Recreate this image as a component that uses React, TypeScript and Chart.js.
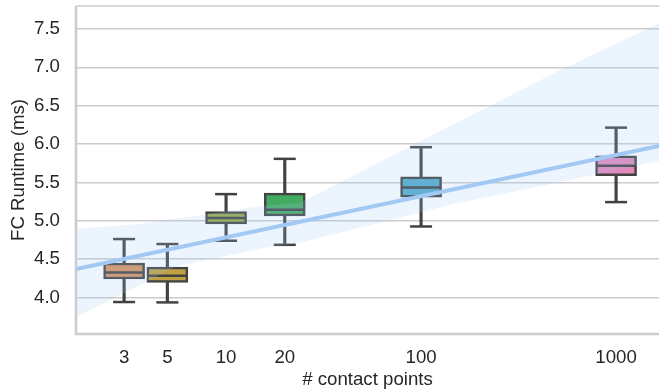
import React, { useEffect, useRef } from 'react';
import { Chart, registerables } from 'chart.js';

Chart.register(...registerables);

// ---- data ----
const contactPoints = [3, 5, 10, 20, 100, 1000];
const whiskerLow = [3.94, 3.935, 4.739, 4.686, 4.925, 5.243];
const q1 = [4.24, 4.195, 4.96, 5.064, 5.308, 5.589];
const medians = [4.326, 4.283, 5.034, 5.142, 5.433, 5.716];
const q3 = [4.448, 4.396, 5.12, 5.36, 5.572, 5.846];
const whiskerHigh = [4.761, 4.696, 5.347, 5.807, 5.959, 6.214];
const boxColors = ['#d9925c', '#c0a040', '#95ab47', '#43ab60', '#53abc8', '#e28abd'];

const fitX = [1.7, 1660];
const fitY = [4.37, 5.976];

const bandX = [1.7, 3.75, 5.54, 15.7, 24, 95, 141, 516, 1660];
const bandUpper = [4.896, 4.961, 5.026, 5.195, 5.234, 6.013, 6.234, 6.961, 7.575];
const bandLower = [3.74, 4.182, 4.403, 4.643, 4.714, 5.097, 5.208, 5.506, 5.783];

const xTicks = [3, 5, 10, 20, 100, 1000];
const yTicks = [4.0, 4.5, 5.0, 5.5, 6.0, 6.5, 7.0, 7.5];

const xTitle = '# contact points';
const yTitle = 'FC Runtime (ms)';

const FONT = "'Liberation Sans', Arial, sans-serif";
const TEXT = '#262626';
const EDGE = '#424242';

const spinePlugin = {
  id: 'spines',
  afterDatasetsDraw(chart: any) {
    const { ctx, chartArea } = chart;
    const { left, right, top, bottom } = chartArea;
    ctx.save();
    ctx.strokeStyle = '#cccccc';
    ctx.lineWidth = 1.5;
    ctx.beginPath();
    ctx.moveTo(left, top);
    ctx.lineTo(right, top);
    ctx.stroke();
    ctx.lineWidth = 2.5;
    ctx.beginPath();
    ctx.moveTo(left, top);
    ctx.lineTo(left, bottom);
    ctx.lineTo(right, bottom);
    ctx.stroke();
    ctx.restore();
  },
};

const zeroPad = (s: any) => {
  s.paddingTop = 0;
  s.paddingBottom = 0;
  s.paddingLeft = 0;
  s.paddingRight = 0;
};

export default function App() {
  const ref = useRef<HTMLCanvasElement | null>(null);

  useEffect(() => {
    if (!ref.current) return;
    const pts = (ys: number[]) => contactPoints.map((x, i) => ({ x, y: ys[i] }));

    const chart = new Chart(ref.current, {
      type: 'bar',
      data: {
        datasets: [
          {
            type: 'line',
            label: 'fit',
            data: fitX.map((x, i) => ({ x, y: fitY[i] })),
            borderColor: '#a1c9f4',
            borderWidth: 4,
            pointRadius: 0,
            fill: false,
            order: 0,
          } as any,
          {
            type: 'line',
            label: 'ciUpper',
            data: bandX.map((x, i) => ({ x, y: bandUpper[i] })),
            borderWidth: 0,
            borderColor: 'rgba(0,0,0,0)',
            backgroundColor: 'rgba(161,201,244,0.2)',
            pointRadius: 0,
            fill: '+1',
            order: 1,
          } as any,
          {
            type: 'line',
            label: 'ciLower',
            data: bandX.map((x, i) => ({ x, y: bandLower[i] })),
            borderWidth: 0,
            borderColor: 'rgba(0,0,0,0)',
            pointRadius: 0,
            fill: false,
            order: 1,
          } as any,
          {
            type: 'line',
            label: 'medians',
            data: pts(medians),
            showLine: false,
            pointStyle: 'line',
            pointRadius: 20,
            pointBorderWidth: 2.5,
            pointBorderColor: EDGE,
            order: 2,
          } as any,
          {
            type: 'bar',
            label: 'boxes',
            data: contactPoints.map((x, i) => ({ x, y: [q1[i], q3[i]] })),
            backgroundColor: boxColors,
            borderColor: EDGE,
            borderWidth: 2.5,
            borderSkipped: false,
            barThickness: 41,
            grouped: false,
            order: 3,
          } as any,
          {
            type: 'line',
            label: 'caps',
            data: [...pts(whiskerLow), ...pts(whiskerHigh)],
            showLine: false,
            pointStyle: 'line',
            pointRadius: 11,
            pointBorderWidth: 2.5,
            pointBorderColor: EDGE,
            order: 4,
          } as any,
          {
            type: 'bar',
            label: 'whiskers',
            data: contactPoints.map((x, i) => ({ x, y: [whiskerLow[i], whiskerHigh[i]] })),
            backgroundColor: EDGE,
            borderWidth: 0,
            barThickness: 2.5,
            grouped: false,
            order: 5,
          } as any,
        ],
      },
      options: {
        responsive: false,
        animation: false,
        events: [],
        layout: { autoPadding: false, padding: { top: 6, right: 0, left: 0, bottom: 0 } },
        plugins: {
          legend: { display: false },
          tooltip: { enabled: false },
        },
        scales: {
          x: {
            type: 'logarithmic',
            min: 1.7,
            max: 1660,
            offset: false,
            afterBuildTicks: (s: any) => {
              s.ticks = xTicks.map((v) => ({ value: v }));
            },
            afterFit: (s: any) => {
              s.height = 57;
              zeroPad(s);
            },
            grid: { display: false, drawTicks: false },
            border: { display: false },
            ticks: {
              autoSkip: false,
              maxRotation: 0,
              padding: 13,
              color: TEXT,
              font: { family: FONT, size: 18.67 },
              callback: (v: any) => String(v),
            },
            title: {
              display: true,
              text: xTitle,
              color: TEXT,
              font: { family: FONT, size: 18.67 },
              padding: { top: 0, bottom: 0 },
            },
          },
          y: {
            type: 'linear',
            min: 3.523,
            max: 7.8,
            afterBuildTicks: (s: any) => {
              s.ticks = yTicks.map((v) => ({ value: v }));
            },
            afterFit: (s: any) => {
              s.width = 76;
              zeroPad(s);
            },
            grid: { color: '#cccccc', lineWidth: 1.5, drawTicks: false },
            border: { display: false },
            ticks: {
              padding: 16,
              color: TEXT,
              font: { family: FONT, size: 18.67 },
              callback: (v: any) => Number(v).toFixed(1),
            },
            title: {
              display: true,
              text: yTitle,
              color: TEXT,
              font: { family: FONT, size: 18.67 },
              padding: { top: 8, bottom: 0 },
            },
          },
        },
      } as any,
      plugins: [spinePlugin],
    });
    return () => chart.destroy();
  }, []);

  return (
    <div style={{ position: 'absolute', left: 0, top: 0, width: 659, height: 391, background: '#ffffff' }}>
      <canvas ref={ref} width={659} height={391} />
    </div>
  );
}
